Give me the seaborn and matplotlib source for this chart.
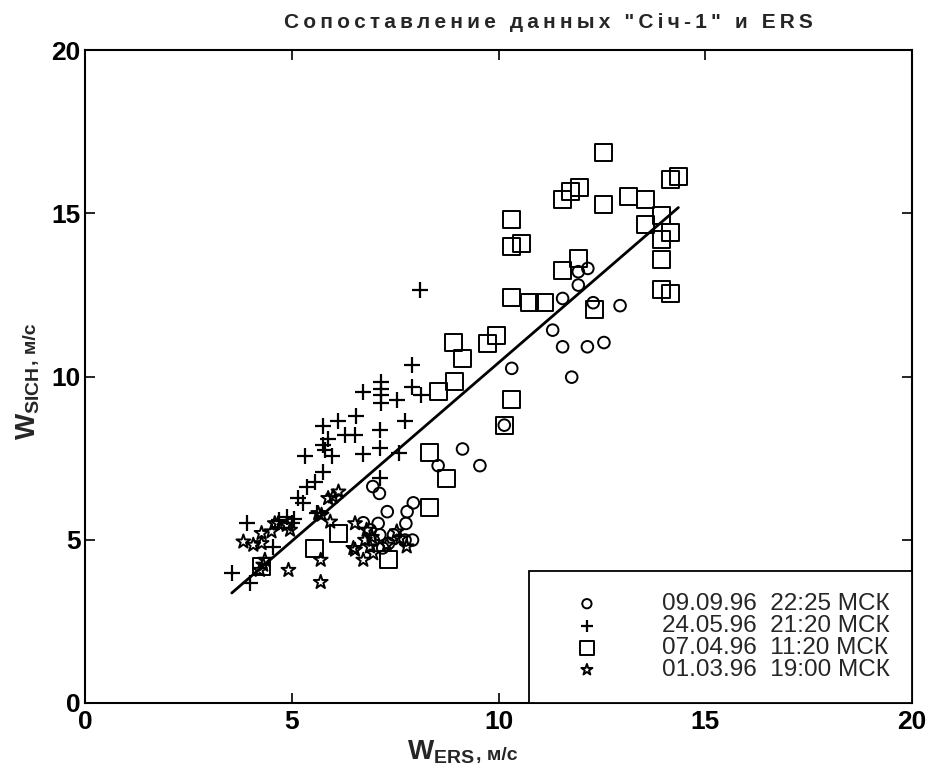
import numpy as np
import pandas as pd
import matplotlib
matplotlib.use("Agg")
import matplotlib.pyplot as plt
import seaborn as sns

# ---------------- data ----------------
circ_x = [12.16, 11.93, 11.93, 11.55, 12.29, 12.94, 11.31, 11.55, 12.15, 12.55, 11.77, 10.32, 10.14,
          9.13, 8.54, 9.55, 6.96, 7.12, 7.94, 7.79, 7.31, 7.76, 7.92, 7.74, 6.73, 7.09, 7.13, 7.46,
          6.97, 7.34, 6.90, 7.20]
circ_y = [13.31, 13.21, 12.80, 12.39, 12.26, 12.17, 11.42, 10.91, 10.91, 11.04, 9.98, 10.25, 8.51,
          7.78, 7.27, 7.27, 6.63, 6.42, 6.13, 5.86, 5.86, 5.50, 4.99, 4.99, 5.52, 5.50, 5.15, 5.15,
          4.99, 4.89, 5.30, 4.75]

plus_x = [8.10, 7.92, 7.90, 8.13, 7.15, 7.15, 7.15, 7.15, 6.73, 7.54, 7.75, 6.55, 6.13, 5.75, 6.29,
          6.53, 7.13, 5.88, 5.75, 5.80, 5.97, 5.32, 6.73, 7.13, 7.59, 5.75, 7.13, 5.56, 5.36, 5.16,
          5.28, 3.91, 3.55, 3.99, 4.88, 5.00, 5.60, 4.55, 4.70, 5.05]
plus_y = [12.65, 10.35, 9.69, 9.43, 9.84, 9.63, 9.43, 9.18, 9.53, 9.28, 8.64, 8.79, 8.64, 8.48, 8.21,
          8.21, 8.36, 8.08, 7.90, 7.75, 7.57, 7.57, 7.63, 7.80, 7.65, 7.09, 6.90, 6.78, 6.63, 6.27,
          6.12, 5.50, 3.97, 3.67, 5.71, 5.50, 5.81, 4.79, 5.60, 5.65]

sq_x = [12.55, 11.55, 11.75, 11.95, 12.55, 13.15, 13.56, 14.15, 14.35, 10.32, 10.32, 10.56, 13.56,
        13.95, 14.16, 13.95, 13.95, 13.95, 14.15, 11.93, 11.55, 10.32, 10.75, 11.12, 12.32, 8.91,
        9.13, 9.73, 9.94, 8.93, 8.54, 10.32, 10.14, 8.33, 8.75, 8.33, 6.13, 5.56, 7.34, 4.27]
sq_y = [16.87, 15.41, 15.66, 15.79, 15.28, 15.51, 15.43, 16.02, 16.14, 14.81, 13.98, 14.08, 14.66,
        14.92, 14.40, 14.20, 13.59, 12.65, 12.53, 13.62, 13.24, 12.43, 12.28, 12.28, 12.04, 11.04,
        10.54, 11.02, 11.27, 9.84, 9.53, 9.30, 8.51, 7.67, 6.88, 5.99, 5.20, 4.74, 4.38, 4.17]

star_x = [3.83, 4.07, 4.27, 4.27, 4.51, 4.67, 4.59, 4.88, 4.96, 4.31, 4.23, 4.35, 4.92, 5.70, 5.70,
          5.64, 5.93, 6.00, 5.88, 6.13, 6.53, 6.53, 6.73, 5.72, 6.49, 6.81, 6.77, 6.89, 6.97, 7.30,
          7.54, 7.78, 7.62, 6.94]
star_y = [4.94, 4.84, 4.89, 5.20, 5.25, 5.50, 5.50, 5.45, 5.30, 4.23, 4.07, 4.38, 4.07, 4.38, 3.70,
          5.81, 5.55, 6.32, 6.27, 6.47, 5.50, 4.69, 4.38, 5.76, 4.74, 5.30, 4.99, 4.79, 4.58, 4.84,
          5.25, 4.79, 5.04, 5.08]

series_labels = ["09.09.96  22:25 МСК", "24.05.96  21:20 МСК", "07.04.96  11:20 МСК", "01.03.96  19:00 МСК"]

fit_slope = 1.093
fit_intercept = -0.51
fit_range = [3.55, 14.35]

title = 'Сопоставление данных "Січ-1" и ERS'
x_label_main = r'$\mathbf{W}_{\mathbf{ERS}}$'
y_label_main = r'$\mathbf{W}_{\mathbf{SICH}}$'
unit_label = ', м/с'
x_ticks = [0, 5, 10, 15, 20]
y_ticks = [0, 5, 10, 15, 20]

# ---------------- style ----------------
sns.set_theme(style="white")
plt.rcParams['font.family'] = ['Liberation Sans', 'DejaVu Sans']
plt.rcParams['mathtext.fontset'] = 'custom'
plt.rcParams['mathtext.rm'] = 'Liberation Sans'
plt.rcParams['mathtext.bf'] = 'Liberation Sans:bold'
plt.rcParams['mathtext.it'] = 'Liberation Sans:italic'

W, H = 927, 778
fig = plt.figure(figsize=(W/100, H/100), dpi=100)
ax = fig.add_axes([85/W, 1-703/H, (912-85)/W, (703-50)/H])

frames = [
    (circ_x, circ_y, 'o', 70, series_labels[0]),
    (plus_x, plus_y, '+', 130, series_labels[1]),
    (sq_x, sq_y, 's', 150, series_labels[2]),
    (star_x, star_y, '*', 110, series_labels[3]),
]
for xs, ys, m, s, lab in frames:
    df = pd.DataFrame({'x': xs, 'y': ys})
    if m == '+':
        sns.scatterplot(data=df, x='x', y='y', marker=m, s=s, color='black', linewidth=1.6,
                        ax=ax, label=lab)
    else:
        sns.scatterplot(data=df, x='x', y='y', marker=m, s=s, facecolor='none', edgecolor='black',
                        linewidth=1.4, ax=ax, label=lab)

fx = np.array(fit_range)
fit_df = pd.DataFrame({'x': fx, 'y': fit_slope * fx + fit_intercept})
sns.lineplot(data=fit_df, x='x', y='y', color='black', linewidth=2.0, ax=ax, legend=False)

ax.set_xlim(0, 20)
ax.set_ylim(0, 20)
ax.set_xticks(x_ticks)
ax.set_yticks(y_ticks)
ax.set_xticklabels([str(t) for t in x_ticks], fontsize=19, fontweight='bold')
ax.set_yticklabels([str(t) for t in y_ticks], fontsize=19, fontweight='bold')
ax.tick_params(direction='in', length=7, width=1.2, top=True, right=True, bottom=True, left=True,
               colors='black')
ax.tick_params(axis='x', pad=5)
ax.tick_params(axis='y', pad=3)
for sp in ax.spines.values():
    sp.set_visible(True)
    sp.set_color('black')
    sp.set_linewidth(1.5)
ax.set_xlabel('')
ax.set_ylabel('')

# title with letter spacing
spaced_title = '\u2009'.join(title)
fig.text(548/W, 1-22/H, spaced_title, ha='center', va='center', fontsize=15, fontweight='bold')

leg = ax.legend(loc='lower right', bbox_to_anchor=(1, 0), borderaxespad=0, fancybox=False,
                frameon=True, edgecolor='black', fontsize=17.5, handlelength=3.0, handletextpad=1.6,
                borderpad=0.9, labelspacing=0.0, markerscale=0.8)
leg.get_frame().set_linewidth(1.3)
leg.get_frame().set_alpha(1)

# axis labels composed of a large symbol and smaller unit text
fig.canvas.draw()
renderer = fig.canvas.get_renderer()
tx = fig.text(407, H-760, x_label_main, transform=None, fontsize=20, ha='left', va='baseline')
bb = tx.get_window_extent(renderer)
fig.text(bb.x1 + 1, H-760, unit_label, transform=None, fontsize=14, fontweight='bold',
         ha='left', va='baseline')

ty = fig.text(36, H-440, y_label_main, transform=None, fontsize=20, rotation=90,
              rotation_mode='anchor', ha='left', va='baseline')
bb2 = ty.get_window_extent(renderer)
fig.text(36, bb2.y1 + 1, unit_label, transform=None, fontsize=14, fontweight='bold', rotation=90,
         rotation_mode='anchor', ha='left', va='baseline')

fig.savefig('out.png', dpi=100, facecolor='white')
